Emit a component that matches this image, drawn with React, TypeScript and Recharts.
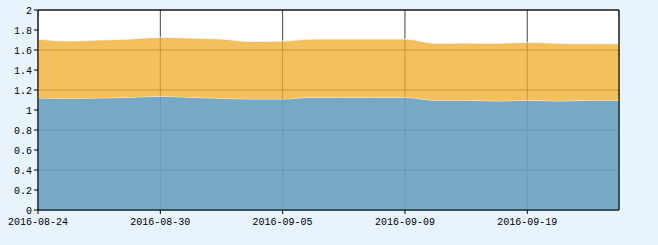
import React from 'react';
import { AreaChart, Area, XAxis, YAxis, CartesianGrid, ReferenceLine } from 'recharts';

const dates = [
  '2016-08-24', '2016-08-25', '2016-08-26', '2016-08-29', '2016-08-30',
  '2016-08-31', '2016-09-01', '2016-09-02', '2016-09-05', '2016-09-06',
  '2016-09-07', '2016-09-08', '2016-09-09', '2016-09-12', '2016-09-13',
  '2016-09-14', '2016-09-19', '2016-09-20', '2016-09-21', '2016-09-22',
];
const blueValues = [
  1.12, 1.117, 1.12, 1.127, 1.137, 1.127, 1.117, 1.11, 1.11, 1.127,
  1.127, 1.127, 1.127, 1.097, 1.097, 1.09, 1.097, 1.09, 1.097, 1.097,
];
const orangeValues = [
  0.59, 0.573, 0.58, 0.583, 0.59, 0.593, 0.593, 0.575, 0.58, 0.583,
  0.583, 0.583, 0.583, 0.57, 0.573, 0.577, 0.58, 0.577, 0.566, 0.566,
];
const yTicks = [0, 0.2, 0.4, 0.6, 0.8, 1, 1.2, 1.4, 1.6, 1.8, 2];

const data = dates.map((d, i) => ({ date: d, blue: blueValues[i], orange: orangeValues[i] }));

const tickStyle = { fill: '#000', fontSize: 10, fontFamily: '"Liberation Mono", monospace' };

export default function App() {
  return (
    <div style={{ position: 'absolute', left: 0, top: 0, width: 658, height: 245, background: '#e8f3fc' }}>
      <AreaChart width={658} height={245} data={data} margin={{ top: 10, right: 39, left: 0, bottom: 0 }}>
        <CartesianGrid stroke="#444" fill="#fff" />
        <XAxis
          dataKey="date"
          interval={3}
          tick={tickStyle}
          tickSize={4}
          tickMargin={4}
          height={35}
          axisLine={{ stroke: '#000' }}
          tickLine={{ stroke: '#000' }}
        />
        <YAxis
          domain={[0, 2]}
          ticks={yTicks}
          width={38}
          tick={tickStyle}
          tickSize={4}
          tickMargin={2}
          tickFormatter={(v: number) => String(Number(v.toFixed(1)))}
          axisLine={{ stroke: '#000' }}
          tickLine={{ stroke: '#000' }}
        />
        <Area
          type="monotone"
          dataKey="blue"
          stackId="a"
          fill="#6aa2c1"
          fillOpacity={0.92}
          stroke="#ffffff"
          strokeOpacity={0.8}
          strokeWidth={1}
          isAnimationActive={false}
        />
        <Area
          type="monotone"
          dataKey="orange"
          stackId="a"
          fill="#f1ad2e"
          fillOpacity={0.77}
          stroke="#ffffff"
          strokeOpacity={0.8}
          strokeWidth={1}
          isAnimationActive={false}
        />
        <ReferenceLine y={2} stroke="#000" />
        <ReferenceLine x={dates[dates.length - 1]} stroke="#000" />
      </AreaChart>
    </div>
  );
}
